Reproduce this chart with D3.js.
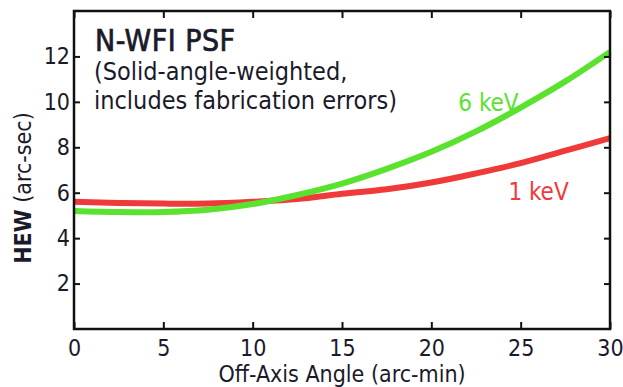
<!DOCTYPE html>
<html>
<head>
<meta charset="utf-8">
<script src="https://cdn.jsdelivr.net/npm/d3@7"></script>
<style>
  body { margin: 0; background: #fff; }
  svg text { font-family: "Liberation Sans Narrow", "DejaVu Sans Condensed", sans-serif; fill: #1a1a2a; }
</style>
</head>
<body>
<svg id="chart" width="623" height="387"></svg>
<script>
// off-axis angle (arc-min)
const angles = [ 0, 2.5, 5, 7.5, 10, 12.5, 15, 17.5, 20, 22.5, 25, 27.5, 30 ];
// HEW (arc-sec)
const hew6keV = [ 5.2, 5.15, 5.15, 5.25, 5.5, 5.9, 6.4, 7.05, 7.8, 8.7, 9.75, 10.9, 12.2 ];
const hew1keV = [ 5.6, 5.55, 5.52, 5.52, 5.6, 5.72, 5.95, 6.15, 6.45, 6.85, 7.3, 7.85, 8.4 ];
const xTicks = [ 0, 5, 10, 15, 20, 25, 30 ];
const yTicks = [ 2, 4, 6, 8, 10, 12 ];

const margin = { top: 11, right: 13, bottom: 58, left: 74 };
const width = 623 - margin.left - margin.right;
const height = 387 - margin.top - margin.bottom;

const svg = d3.select( "#chart" );
const g = svg.append( "g" )
  .attr( "transform", `translate(${margin.left},${margin.top})` );

const x = d3.scaleLinear().domain( [ 0, 30 ] ).range( [ 0, width ] );
const y = d3.scaleLinear().domain( [ 0, 14 ] ).range( [ height, 0 ] );

// curves
const line = d3.line()
  .x( ( d, i ) => x( angles[ i ] ) )
  .y( d => y( d ) )
  .curve( d3.curveCatmullRom );

g.append( "path" )
  .datum( hew1keV )
  .attr( "d", line )
  .attr( "fill", "none" )
  .attr( "stroke", "#f03a3a" )
  .attr( "stroke-width", 6 );

g.append( "path" )
  .datum( hew6keV )
  .attr( "d", line )
  .attr( "fill", "none" )
  .attr( "stroke", "#5ae22e" )
  .attr( "stroke-width", 6 );

// axes, ticks pointing inward, mirrored on top/right
const styleAxis = sel => {
  sel.select( ".domain" ).remove();
  sel.selectAll( "line" ).attr( "stroke", "#111" ).attr( "stroke-width", 2 );
  sel.selectAll( "text" ).attr( "font-size", 23 ).attr( "fill", "#1a1a2a" );
};

g.append( "g" )
  .attr( "transform", `translate(0,${height})` )
  .call( d3.axisBottom( x ).tickValues( xTicks ).tickSizeInner( -7 ).tickPadding( 11 ).tickFormat( d3.format( "d" ) ) )
  .call( styleAxis );

g.append( "g" )
  .call( d3.axisTop( x ).tickValues( xTicks ).tickSizeInner( -7 ).tickFormat( "" ) )
  .call( styleAxis );

g.append( "g" )
  .call( d3.axisLeft( y ).tickValues( yTicks ).tickSizeInner( -6 ).tickPadding( 4 ).tickFormat( d3.format( "d" ) ) )
  .call( styleAxis );

g.append( "g" )
  .attr( "transform", `translate(${width},0)` )
  .call( d3.axisRight( y ).tickValues( yTicks ).tickSizeInner( -6 ).tickFormat( "" ) )
  .call( styleAxis );

g.append( "rect" )
  .attr( "width", width )
  .attr( "height", height )
  .attr( "fill", "none" )
  .attr( "stroke", "#111" )
  .attr( "stroke-width", 2.5 );

// labels
g.append( "text" )
  .attr( "x", 21 ).attr( "y", 40 )
  .attr( "font-size", 30 )
  .attr( "stroke", "#1a1a2a" )
  .attr( "stroke-width", 0.7 )
  .attr( "textLength", 140 )
  .text( "N-WFI PSF" );

g.append( "text" )
  .attr( "x", 20 ).attr( "y", 69 )
  .attr( "font-size", 25 )
  .text( "(Solid-angle-weighted," );

g.append( "text" )
  .attr( "x", 20 ).attr( "y", 98 )
  .attr( "font-size", 25 )
  .text( "includes fabrication errors)" );

g.append( "text" )
  .attr( "x", x( 23.2 ) ).attr( "y", y( 9.96 ) )
  .attr( "dy", "0.35em" )
  .attr( "text-anchor", "middle" )
  .attr( "font-size", 24 )
  .style( "fill", "#5ae22e" )
  .text( "6 keV" );

g.append( "text" )
  .attr( "x", x( 26.0 ) ).attr( "y", y( 6.05 ) )
  .attr( "dy", "0.35em" )
  .attr( "text-anchor", "middle" )
  .attr( "font-size", 24 )
  .style( "fill", "#f03a3a" )
  .text( "1 keV" );

svg.append( "text" )
  .attr( "x", margin.left + width / 2 ).attr( "y", 382 )
  .attr( "text-anchor", "middle" )
  .attr( "font-size", 23 )
  .text( "Off-Axis Angle (arc-min)" );

const yTitle = svg.append( "text" )
  .attr( "transform", `translate(31,188) rotate(-90)` )
  .attr( "text-anchor", "middle" )
  .attr( "font-size", 23 );
yTitle.append( "tspan" ).attr( "font-weight", 700 ).text( "HEW" );
yTitle.append( "tspan" ).text( " (arc-sec)" );
</script>
</body>
</html>
